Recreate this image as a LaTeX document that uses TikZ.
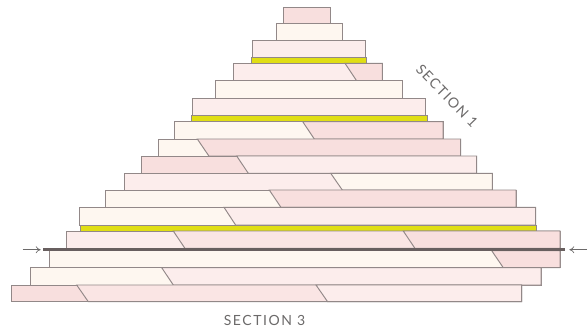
\documentclass[tikz,border=0pt]{standalone}
\usepackage{fontspec}
\setmainfont{Lato}
\usetikzlibrary{arrows.meta}

\definecolor{pinkD}{RGB}{248,223,222}
\definecolor{pinkM}{RGB}{250,229,228}
\definecolor{pinkL}{RGB}{252,237,236}
\definecolor{cream}{RGB}{254,247,240}
\definecolor{band}{RGB}{224,222,20}
\definecolor{edgegray}{RGB}{146,136,136}
\definecolor{rulegray}{RGB}{104,95,95}
\definecolor{textgray}{RGB}{108,106,106}

% one course of the stack: x-left, x-right, y-top, y-bottom, colour
\newcommand{\slab}[5]{\filldraw[course, fill=#5] (#1,#3) rectangle (#2,#4);}
% piece right of a slanted seam: seam x at top, x-right, y-top, y-bottom, colour
\newcommand{\cut}[5]{\filldraw[course, fill=#5] (#1,#3) -- (#2,#3) -- (#2,#4) -- (#1+11.6,#4) -- cycle;}

\begin{document}
\begin{tikzpicture}[x=1pt, y=-1pt,
  course/.style={draw=edgegray, line width=0.95pt, line join=miter},
  label/.style={text=textgray, font=\fontsize{14}{15}\selectfont\addfontfeature{LetterSpace=11}, inner sep=0pt},
  >={To[length=5pt, width=7pt]}]
  \useasboundingbox (0,0) rectangle (588,332);
  % top of the stack
  \slab{283}{330}{7}{23.3}{pinkD}
  \slab{276}{342}{23.3}{40}{cream}
  \slab{252.3}{365}{40}{57.3}{pinkL}
  \slab{251}{366.3}{57.3}{63.3}{band}
  \slab{233.7}{382.3}{63.3}{80.7}{pinkL} \cut{345}{382.3}{63.3}{80.7}{pinkD}
  \slab{215.3}{402.7}{80.7}{98}{cream}
  \slab{192.3}{425.7}{98}{115}{pinkL}
  \slab{191.7}{427}{115}{121.7}{band}
  % middle courses
  \slab{174.3}{443}{121.7}{139}{cream} \cut{302.7}{443}{121.7}{139}{pinkD}
  \slab{158.7}{460.7}{139}{156}{cream} \cut{197.3}{460.7}{139}{156}{pinkD}
  \slab{141}{476.7}{156}{173.3}{pinkD} \cut{236.7}{476.7}{156}{173.3}{pinkL}
  \slab{124}{492.3}{173.3}{190}{pinkL} \cut{330.7}{492.3}{173.3}{190}{cream}
  \slab{105.3}{516}{190}{207.3}{cream} \cut{269.3}{516}{190}{207.3}{pinkD}
  \slab{79.7}{535.7}{207.3}{225}{cream} \cut{224}{535.7}{207.3}{225}{pinkL}
  \slab{80}{536.7}{225}{231}{band}
  % bottom courses
  \slab{66}{560}{231}{248.3}{pinkL} \cut{173.3}{560}{231}{248.3}{pinkM}
  \cut{403.3}{560}{231}{248.3}{pinkD}
  \slab{49.3}{560}{250.7}{267.7}{cream} \cut{491.7}{560}{250.7}{267.7}{pinkD}
  \slab{30.7}{541}{267.7}{285}{cream} \cut{161.7}{541}{267.7}{285}{pinkL}
  \slab{11}{521.7}{285}{301.7}{pinkD} \cut{76.7}{521.7}{285}{301.7}{pinkM}
  \cut{316}{521.7}{285}{301.7}{pinkL}
  % dividing rule with its two markers
  \coordinate (ruleL) at (43.3,249.5);
  \coordinate (ruleR) at (565,249.5);
  \draw[rulegray, line width=2.6pt] (ruleL) -- (ruleR);
  \coordinate (tipL) at (40.7,249.7);
  \coordinate (tipR) at (569.3,249.7);
  \coordinate (tailL) at (22.7,249.7);
  \coordinate (tailR) at (587,249.7);
  \draw[->, textgray, line width=0.7pt] (tailL) -- (tipL);
  \draw[->, textgray, line width=0.7pt] (tailR) -- (tipR);
  % section labels
  \node[label, rotate=-46] (sec1) at (447,96) {SECTION 1};
  \node[label] (sec3) at (264.5,320) {SECTION 3};
\end{tikzpicture}
\end{document}
